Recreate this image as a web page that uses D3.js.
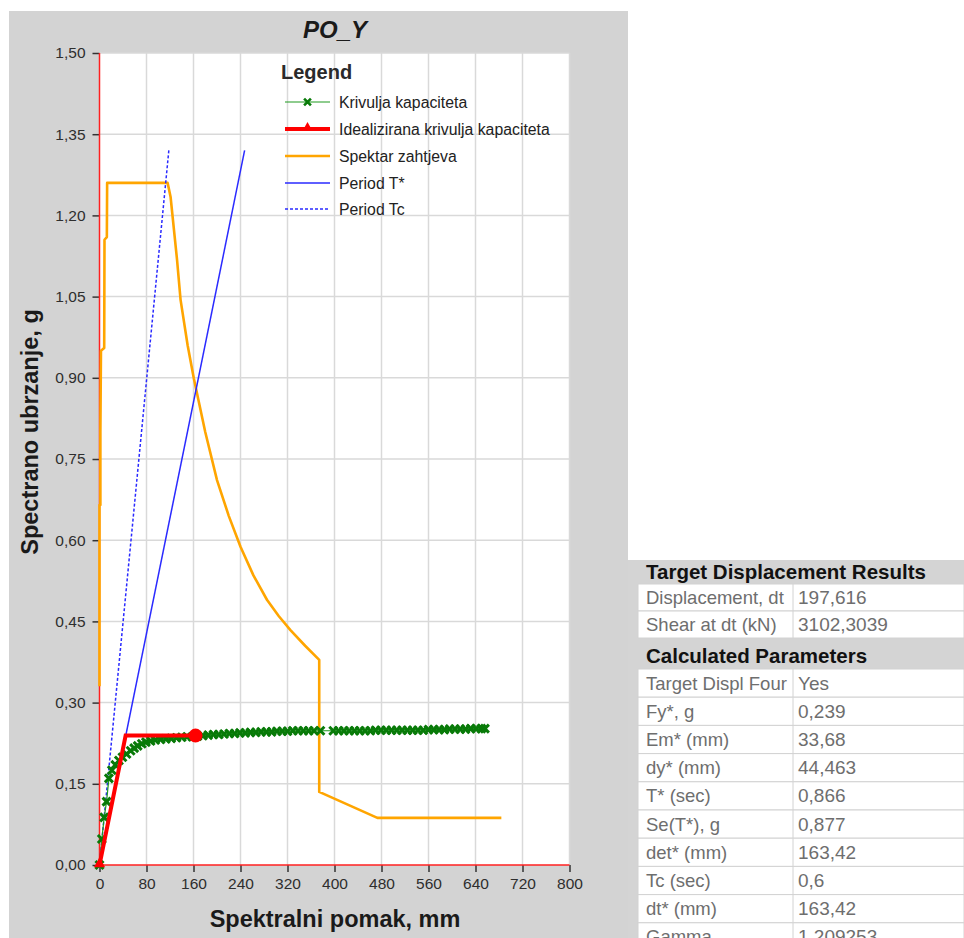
<!DOCTYPE html>
<html>
<head>
<meta charset="utf-8">
<script src="https://cdn.jsdelivr.net/npm/d3@7"></script>
<style>
  html, body { margin: 0; padding: 0; background: #ffffff; }
  svg { display: block; font-family: "Liberation Sans", Arial, sans-serif; }
</style>
</head>
<body>
<svg id="chart" width="964" height="938"></svg>
<script>
// ---------- DATA ----------
const chartTitle = "PO_Y";
const xTitle = "Spektralni pomak, mm";
const yTitle = "Spectrano ubrzanje, g";
const xTicks = [0, 80, 160, 240, 320, 400, 480, 560, 640, 720, 800];
const yTicks = [0, 0.15, 0.30, 0.45, 0.60, 0.75, 0.90, 1.05, 1.20, 1.35, 1.50];

const seriesNames = ["Krivulja kapaciteta", "Idealizirana krivulja kapaciteta", "Spektar zahtjeva", "Period T*", "Period Tc"];

// Capacity curve (Sd mm, Sa g)
const capSd = [0,4,8,12,16,21,27,33,39,46,53,59,65,72,79,87,95,104,113,122,131,140,149,158,167,176,185,194,203,212,221,230,239,248,257,266,275,284,293,302,311,320,329,338,347,356,365,376,398,407,416,425,434,443,452,461,470,479,488,497,506,515,524,533,542,551,560,569,578,587,596,605,614,623,632,641,650,656];
const capSa = [0,0.048,0.088,0.117,0.160,0.175,0.185,0.193,0.199,0.205,0.211,0.216,0.220,0.224,0.227,0.229,0.231,0.232,0.233,0.234,0.235,0.236,0.237,0.237,0.238,0.239,0.240,0.241,0.241,0.242,0.243,0.243,0.244,0.244,0.245,0.245,0.246,0.246,0.246,0.247,0.247,0.247,0.248,0.248,0.248,0.248,0.248,0.248,0.248,0.248,0.248,0.248,0.248,0.248,0.248,0.248,0.249,0.249,0.249,0.249,0.249,0.249,0.249,0.249,0.249,0.249,0.250,0.250,0.250,0.250,0.251,0.251,0.251,0.251,0.252,0.252,0.252,0.252];

// Idealized bilinear curve
const idealSd = [0, 44.463, 163.42];
const idealSa = [0, 0.239, 0.239];
const targetSd = 163.42;
const targetSa = 0.239;

// Demand spectrum (ADRS)
const demandSd = [0,0,1.5,1.5,2.5,8,8.5,12.5,13,116,121,132,138,150,160.5,180,200,220,240,262,285,305,325,350,374,374,473,684];
const demandSa = [0.33,0.665,0.665,0.80,0.95,0.955,1.155,1.16,1.26,1.26,1.234,1.118,1.044,0.96,0.899,0.80,0.711,0.645,0.588,0.535,0.49,0.46,0.434,0.405,0.379,0.135,0.087,0.087];

// Period lines
const tStarSd = [0, 247];
const tStarSa = [0, 1.32];
const tcSd = [0, 118];
const tcSa = [0, 1.32];

// Results table
const table1Title = "Target Displacement Results";
const table1Labels = ["Displacement, dt", "Shear at dt (kN)"];
const table1Values = ["197,616", "3102,3039"];
const table2Title = "Calculated Parameters";
const table2Labels = ["Target Displ Four", "Fy*, g", "Em* (mm)", "dy* (mm)", "T* (sec)", "Se(T*), g", "det* (mm)", "Tc (sec)", "dt* (mm)", "Gamma"];
const table2Values = ["Yes", "0,239", "33,68", "44,463", "0,866", "0,877", "163,42", "0,6", "163,42", "1,209253"];

// ---------- DRAW ----------
const svg = d3.select("#chart");
const fmt = v => d3.format(".2f")(v).replace(".", ",");

const plot = { left: 99.5, right: 569.5, top: 53, bottom: 865 };
const x = d3.scaleLinear().domain([0, 800]).range([plot.left, plot.right]);
const y = d3.scaleLinear().domain([0, 1.5]).range([plot.bottom, plot.top]);

// gray panel
svg.append("rect").attr("x", 9).attr("y", 11).attr("width", 619).attr("height", 927).attr("fill", "#d3d3d3");
// plot area
svg.append("rect").attr("x", plot.left).attr("y", plot.top)
  .attr("width", plot.right - plot.left).attr("height", plot.bottom - plot.top).attr("fill", "#ffffff");

// grid
const grid = svg.append("g");
grid.selectAll("line.vx").data(xTicks.slice(1)).join("line")
  .attr("x1", d => x(d)).attr("x2", d => x(d)).attr("y1", plot.top).attr("y2", plot.bottom)
  .attr("stroke", "#d9d9d9").attr("stroke-width", 1.5);
grid.selectAll("line.hy").data(yTicks.slice(1)).join("line")
  .attr("x1", plot.left).attr("x2", plot.right).attr("y1", d => y(d)).attr("y2", d => y(d))
  .attr("stroke", "#d9d9d9").attr("stroke-width", 1.5);

// axes
const xAxis = d3.axisBottom(x).tickValues(xTicks).tickFormat(d => d).tickSize(7).tickPadding(6);
const yAxis = d3.axisLeft(y).tickValues(yTicks).tickFormat(fmt).tickSize(7).tickPadding(6);
const gx = svg.append("g").attr("transform", `translate(0,${plot.bottom})`).call(xAxis);
const gy = svg.append("g").attr("transform", `translate(${plot.left},0)`).call(yAxis);
[gx, gy].forEach(g => {
  g.select(".domain").remove();
  g.selectAll(".tick line").attr("stroke", "#333").attr("stroke-width", 1.5);
  g.selectAll(".tick text").attr("fill", "#2e2e2e").attr("font-size", 15.5)
    .attr("font-family", "'Liberation Sans', Arial, sans-serif");
});
gy.selectAll(".tick text").attr("dx", -1);

// red axis lines
svg.append("line").attr("x1", plot.left).attr("x2", plot.left).attr("y1", plot.top).attr("y2", plot.bottom)
  .attr("stroke", "#ff2020").attr("stroke-width", 1.5);
svg.append("line").attr("x1", plot.left).attr("x2", plot.right).attr("y1", plot.bottom).attr("y2", plot.bottom)
  .attr("stroke", "#ff2020").attr("stroke-width", 1.5);

const line = d3.line().x(d => x(d[0])).y(d => y(d[1]));
const zip = (a, b) => a.map((v, i) => [v, b[i]]);

// demand spectrum
svg.append("path").datum(zip(demandSd, demandSa)).attr("d", line)
  .attr("fill", "none").attr("stroke", "#ffa500").attr("stroke-width", 2.6).attr("stroke-linejoin", "round");

// period lines
svg.append("path").datum(zip(tStarSd, tStarSa)).attr("d", line)
  .attr("fill", "none").attr("stroke", "#2a2aff").attr("stroke-width", 1.5);
svg.append("path").datum(zip(tcSd, tcSa)).attr("d", line)
  .attr("fill", "none").attr("stroke", "#2a2aff").attr("stroke-width", 1.5).attr("stroke-dasharray", "3,2");

// capacity curve
const capData = zip(capSd, capSa);
svg.append("path").datum(capData).attr("d", line)
  .attr("fill", "none").attr("stroke", "#1e9a1e").attr("stroke-width", 1.2);
const xMark = (g, cx, cy, s, w) => {
  g.append("path").attr("d", `M${cx - s},${cy - s}L${cx + s},${cy + s}M${cx - s},${cy + s}L${cx + s},${cy - s}`)
    .attr("stroke", "#087a08").attr("stroke-width", w).attr("fill", "none");
};
const capMarks = svg.append("g");
capData.forEach(d => xMark(capMarks, x(d[0]), y(d[1]), 4, 3));

// idealized curve
svg.append("path").datum(zip(idealSd, idealSa)).attr("d", line)
  .attr("fill", "none").attr("stroke", "#ff0000").attr("stroke-width", 4).attr("stroke-linejoin", "miter");
svg.append("path").attr("d", d3.symbol(d3.symbolTriangle, 55)())
  .attr("transform", `translate(${x(idealSd[0])},${y(idealSa[0]) - 1})`).attr("fill", "#ff0000");
svg.append("circle").attr("cx", x(targetSd)).attr("cy", y(targetSa)).attr("r", 7).attr("fill", "#ff0000");

// titles
svg.append("text").attr("x", 335).attr("y", 38).attr("text-anchor", "middle")
  .attr("font-size", 24).attr("font-weight", "bold").attr("font-style", "italic").attr("fill", "#1a1a1a").text(chartTitle);
svg.append("text").attr("x", 335).attr("y", 927).attr("text-anchor", "middle")
  .attr("font-size", 23.5).attr("font-weight", "bold").attr("fill", "#1a1a1a").text(xTitle);
svg.append("text").attr("transform", "translate(38,432) rotate(-90)").attr("text-anchor", "middle")
  .attr("font-size", 23.5).attr("font-weight", "bold").attr("fill", "#1a1a1a").text(yTitle);

// legend
const lg = svg.append("g");
lg.append("text").attr("x", 281).attr("y", 79).attr("font-size", 20).attr("font-weight", "bold")
  .attr("fill", "#2a2a2a").text("Legend");
const legY = [102, 129, 156, 183, 209];
const legStyles = [
  { c: "#1e9a1e", w: 1.2, dash: null },
  { c: "#ff0000", w: 4, dash: null },
  { c: "#ffa500", w: 2.6, dash: null },
  { c: "#2a2aff", w: 1.5, dash: null },
  { c: "#2a2aff", w: 1.5, dash: "3,2" }
];
seriesNames.forEach((name, i) => {
  const st = legStyles[i];
  const l = lg.append("line").attr("x1", 285).attr("x2", 330).attr("y1", legY[i]).attr("y2", legY[i])
    .attr("stroke", st.c).attr("stroke-width", st.w);
  if (st.dash) l.attr("stroke-dasharray", st.dash);
  lg.append("text").attr("x", 339).attr("y", legY[i] + 5.5).attr("font-size", 15.8).attr("fill", "#222").text(name);
});
xMark(lg, 307.5, legY[0], 3.4, 2.6);
lg.append("path").attr("d", d3.symbol(d3.symbolTriangle, 45)()).attr("transform", `translate(307.5,${legY[1] - 1})`).attr("fill", "#ff0000");

// ---------- TABLE ----------
const tb = svg.append("g").attr("font-family", "'Liberation Sans', Arial, sans-serif");
const tX = 628, tW = 336, cellX = 638, divX = 793;
tb.append("rect").attr("x", tX).attr("y", 560).attr("width", tW).attr("height", 378).attr("fill", "#d4d4d4");
const header = (title, yTop, h) => {
  tb.append("rect").attr("x", tX).attr("y", yTop).attr("width", tW).attr("height", h).attr("fill", "#d4d4d4");
  tb.append("text").attr("x", 646).attr("y", yTop + h - 5).attr("font-size", 20.5).attr("font-weight", "bold")
    .attr("fill", "#111").text(title);
};
const rows = (labels, values, yTop, h) => {
  labels.forEach((lab, i) => {
    const ry = yTop + i * h;
    tb.append("rect").attr("x", cellX).attr("y", ry).attr("width", 964 - cellX).attr("height", h)
      .attr("fill", "#ffffff").attr("stroke", "#d2d2d2").attr("stroke-width", 1);
    tb.append("line").attr("x1", divX).attr("x2", divX).attr("y1", ry).attr("y2", ry + h)
      .attr("stroke", "#d2d2d2").attr("stroke-width", 1);
    tb.append("text").attr("x", 646).attr("y", ry + h / 2 + 6.5).attr("font-size", 18.5).attr("fill", "#6e6e6e").text(lab);
    tb.append("text").attr("x", 798).attr("y", ry + h / 2 + 6.5).attr("font-size", 19).attr("fill", "#6e6e6e").text(values[i]);
  });
};
header(table1Title, 560, 24);
rows(table1Labels, table1Values, 584, 27);
header(table2Title, 639, 29);
rows(table2Labels, table2Values, 669, 28.2);
</script>
</body>
</html>
